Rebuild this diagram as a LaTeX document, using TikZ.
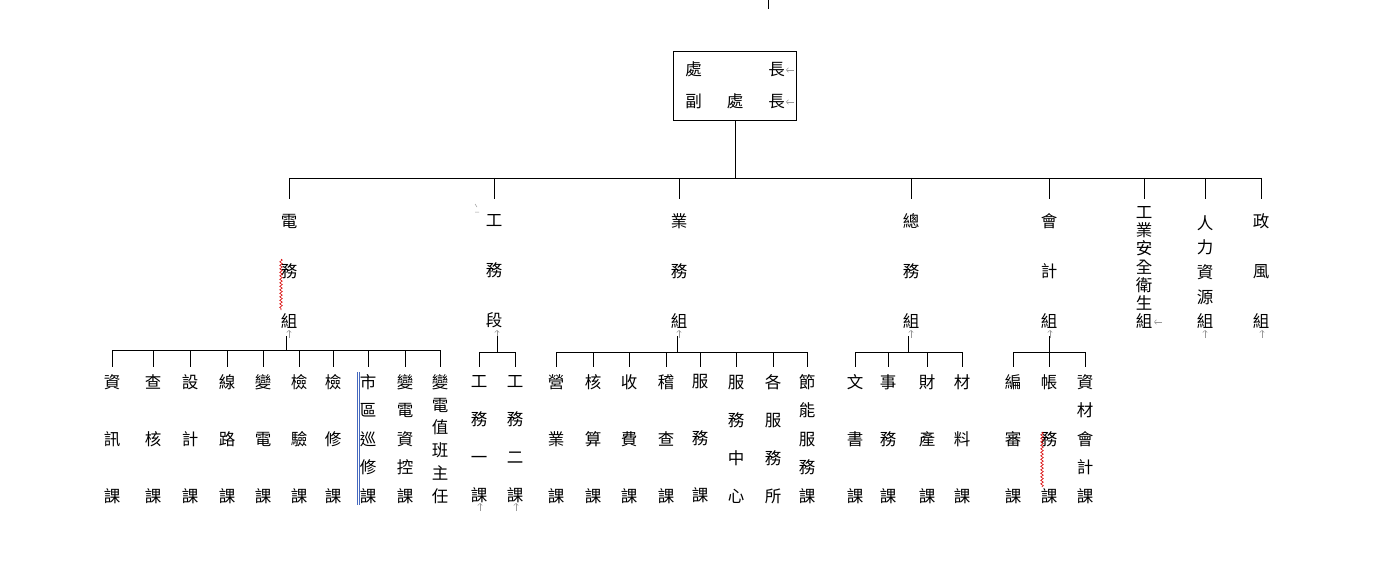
\documentclass[tikz,border=0pt]{standalone}
\usepackage{fontspec}
\newfontfamily\cjk{Noto Sans CJK TC}
\usetikzlibrary{arrows.meta,decorations.pathmorphing}
\definecolor{wordblue}{RGB}{70,105,190}
\begin{document}
\begin{tikzpicture}[x=1pt,y=-1pt,
  ln/.style={line width=0.9pt,draw=black},
  pm/.style={draw=black!40,line width=0.5pt,-{Straight Barb[length=2.2pt,width=4.5pt]}},
  vt/.style={font=\cjk\fontsize{16.5}{#1}\selectfont,align=center,inner sep=0pt},
  squig/.style={draw=red!85!black,line width=0.6pt,decorate,decoration={snake,amplitude=1.3pt,segment length=3.5pt}},
  dbl/.style={draw=wordblue,line width=0.7pt}]
\useasboundingbox (0,0) rectangle (1383,572);
\fill[white] (0,0) rectangle (1383,572);

% top
\coordinate (topA) at (768,0);
\draw[ln] (topA) -- ++(0,9);
\node[draw,line width=0.9pt,minimum width=123pt,minimum height=69pt,inner sep=0pt,
  font=\cjk\fontsize{16.5}{32}\selectfont] (head) at (735,85.5)
  {\begin{tabular}{@{}c@{\hspace{25pt}}c@{\hspace{25pt}}c@{}}處&&長\\副&處&長\end{tabular}};
\draw[pm] (794,70) -- (786,70);
\draw[pm] (794,102) -- (786,102);

% level 2
\coordinate (bar) at (0,178);
\node[vt=50] (g1) at (289,271) {電\\務\\組};
\node[vt=50] (g2) at (494,271) {工\\務\\段};
\node[vt=50] (g3) at (679,271) {業\\務\\組};
\node[vt=50] (g4) at (911,271) {總\\務\\組};
\node[vt=50] (g5) at (1049,271) {會\\計\\組};
\node[vt=18.1] (g6) at (1144,267.5) {工\\業\\安\\全\\衛\\生\\組};
\node[vt=24.6] (g7) at (1205,272) {人\\力\\資\\源\\組};
\node[vt=50] (g8) at (1261,271) {政\\風\\組};
\draw[ln] (head.south) -- (head.south |- bar);
\draw[ln] (g1 |- bar) -- (g8 |- bar);
\foreach \g in {g1,g2,g3,g4,g5,g6,g7,g8} \draw[ln] (\g |- bar) -- ++(0,21);
\foreach \x in {289,497,679,911,1050,1205,1262} \draw[pm] (\x,338) -- (\x,330);
\draw[pm] (1162,322) -- (1154,322);
\draw[black!40,line width=0.5pt] (475,204) -- (477,207) (475,212) -- (479,212);

% group 1
\node[vt=57] (a1) at (112,439) {資\\訊\\課};
\node[vt=57] (a2) at (153,439) {查\\核\\課};
\node[vt=57] (a3) at (190,439) {設\\計\\課};
\node[vt=57] (a4) at (227,439) {線\\路\\課};
\node[vt=57] (a5) at (263,439) {變\\電\\課};
\node[vt=57] (a6) at (299,439) {檢\\驗\\課};
\node[vt=57] (a7) at (333,439) {檢\\修\\課};
\node[vt=28.5] (a8) at (368,439) {市\\區\\巡\\修\\課};
\node[vt=28.5] (a9) at (405,439) {變\\電\\資\\控\\課};
\node[vt=22.8] (a10) at (440,439) {變\\電\\值\\班\\主\\任};
\coordinate (jA) at (286,350);
\draw[ln] (jA) -- ++(0,-14);
\draw[ln] (a1 |- jA) -- (a10 |- jA);
\foreach \n in {a1,a2,a3,a4,a5,a6,a7,a8,a9,a10} \draw[ln] (\n |- jA) -- ++(0,17);
\draw[dbl] (357,372) -- (357,505);
\draw[dbl] (359.5,372) -- (359.5,505);
\draw[squig] (281,259) -- (281,310);

% group 2
\node[vt=38] (b1) at (479,439) {工\\務\\一\\課};
\node[vt=38] (b2) at (515,439) {工\\務\\二\\課};
\coordinate (jB) at (497,352);
\draw[ln] (jB) -- ++(0,-16);
\draw[ln] (b1 |- jB) -- (b2 |- jB);
\foreach \n in {b1,b2} \draw[ln] (\n |- jB) -- ++(0,15);
\draw[pm] (480,511) -- (480,503);
\draw[pm] (516,511) -- (516,503);

% group 3
\node[vt=57] (c1) at (556,439) {營\\業\\課};
\node[vt=57] (c2) at (593,439) {核\\算\\課};
\node[vt=57] (c3) at (629,439) {收\\費\\課};
\node[vt=57] (c4) at (666,439) {稽\\查\\課};
\node[vt=57] (c5) at (700,439) {服\\務\\課};
\node[vt=38] (c6) at (736,439) {服\\務\\中\\心};
\node[vt=38] (c7) at (773,439) {各\\服\\務\\所};
\node[vt=28.5] (c8) at (807,439) {節\\能\\服\\務\\課};
\coordinate (jC) at (677,352);
\draw[ln] (jC) -- ++(0,-16);
\draw[ln] (c1 |- jC) -- (c8 |- jC);
\foreach \n in {c1,c2,c3,c4,c5,c6,c7,c8} \draw[ln] (\n |- jC) -- ++(0,15);

% group 4
\node[vt=57] (d1) at (855,439) {文\\書\\課};
\node[vt=57] (d2) at (888,439) {事\\務\\課};
\node[vt=57] (d3) at (927,439) {財\\產\\課};
\node[vt=57] (d4) at (962,439) {材\\料\\課};
\coordinate (jD) at (908,352);
\draw[ln] (jD) -- ++(0,-16);
\draw[ln] (d1 |- jD) -- (d4 |- jD);
\foreach \n in {d1,d2,d3,d4} \draw[ln] (\n |- jD) -- ++(0,15);

% group 5
\node[vt=57] (e1) at (1013,439) {編\\審\\課};
\node[vt=57] (e2) at (1049,439) {帳\\務\\課};
\node[vt=28.5] (e3) at (1085,439) {資\\材\\會\\計\\課};
\coordinate (jE) at (1049,352);
\draw[ln] (jE) -- ++(0,-16);
\draw[ln] (e1 |- jE) -- (e3 |- jE);
\foreach \n in {e1,e2,e3} \draw[ln] (\n |- jE) -- ++(0,15);
\draw[squig] (1042,432) -- (1042,487);
\end{tikzpicture}
\end{document}
